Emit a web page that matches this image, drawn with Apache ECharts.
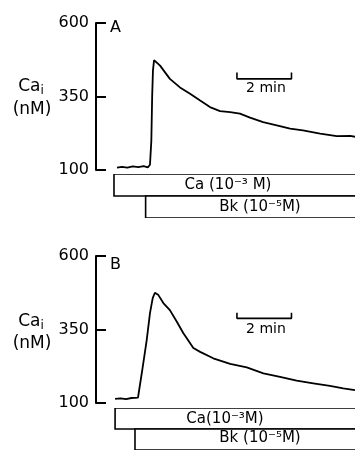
<!DOCTYPE html>
<html>
<head>
<meta charset="utf-8">
<script src="https://cdn.jsdelivr.net/npm/echarts@6/dist/echarts.min.js"></script>
<style>
  html, body { margin: 0; padding: 0; background: #fff; }
  #chart { width: 355px; height: 450px; }
</style>
</head>
<body>
<div id="chart"></div>
<script>
// time in minutes, Ca_i in nM
const timeA = [0.77, 0.95, 1.15, 1.35, 1.55, 1.75, 1.90, 1.98, 2.03, 2.06, 2.09, 2.13, 2.20, 2.35, 2.71, 3.08, 3.45, 3.82, 4.18, 4.55, 4.92, 5.28, 5.65, 6.13, 6.63, 7.12, 7.59, 8.22, 8.83, 9.32, 9.5];
const caA = [108, 111, 108, 112, 110, 113, 109, 118, 200, 350, 440, 474, 470, 455, 410, 381, 359, 336, 314, 300, 297, 292, 278, 263, 252, 241, 235, 224, 215, 216, 213];

const timeB = [0.70, 0.90, 1.10, 1.30, 1.54, 1.68, 1.86, 1.98, 2.08, 2.16, 2.29, 2.47, 2.71, 2.96, 3.20, 3.57, 3.82, 4.30, 4.92, 5.53, 6.14, 6.75, 7.36, 7.97, 8.58, 9.07, 9.5];
const caB = [114, 116, 113, 117, 118, 202, 314, 406, 457, 475, 467, 440, 416, 377, 338, 287, 274, 252, 233, 221, 201, 189, 176, 167, 158, 150, 144];

const yMin = 100;
const yMax = 600;
const yStep = 250;

// treatment bars: start minute, row (0 = Ca, 1 = Bk)
const treatRows = ['Ca (10⁻³ M)', 'Bk (10⁻⁵M)'];
const treatStartA = [0.66, 1.82];
const treatStartB = [0.70, 1.43];
const treatEnd = 9.8;

// 2 min scale bar
const scaleX = [5.17, 7.17];
const scaleA = [410, 432];
const scaleB = [388, 407];

const font = 'DejaVu Sans';
const xMax = 9.5;

function pairs(xs, ys) {
  return xs.map(function (x, i) { return [x, ys[i]]; });
}

function scaleBar(level) {
  return [[scaleX[0], level[1]], [scaleX[0], level[0]], [scaleX[1], level[0]], [scaleX[1], level[1]]];
}

function treatData(starts) {
  return starts.map(function (s, i) { return [s, treatEnd, i]; });
}

function renderTreat(params, api) {
  const p0 = api.coord([api.value(0), api.value(2)]);
  const p1 = api.coord([api.value(1), api.value(2) + 1]);
  return {
    type: 'rect',
    shape: { x: p0[0], y: p0[1], width: p1[0] - p0[0], height: p1[1] - p0[1] },
    style: { fill: '#fff', stroke: '#000', lineWidth: 1.6 }
  };
}

function valueAxis(gridIndex) {
  return {
    type: 'value', gridIndex: gridIndex, min: yMin, max: yMax, interval: yStep,
    axisLine: { show: true, lineStyle: { color: '#000', width: 2 } },
    axisTick: { show: true, inside: true, length: 10, lineStyle: { color: '#000', width: 2 } },
    axisLabel: { inside: false, color: '#000', fontFamily: font, fontSize: 16, margin: 7 },
    splitLine: { show: false }
  };
}

function rowAxis(gridIndex) {
  return { type: 'value', gridIndex: gridIndex, min: 0, max: 2, inverse: true, show: false };
}

function timeAxis(gridIndex) {
  return { type: 'value', gridIndex: gridIndex, min: 0, max: xMax, show: false };
}

const lineStyle = { color: '#000', width: 1.8 };

function text(x, y, str, size, align) {
  return {
    type: 'text', x: x, y: y, z: 100,
    style: { text: str, fill: '#000', font: size + 'px "' + font + '"', align: align || 'center', verticalAlign: 'middle' }
  };
}

function caLabel(x, y) {
  return {
    type: 'text', x: x, y: y, z: 100,
    style: {
      text: '{c|Ca}{s|i}', align: 'center', verticalAlign: 'middle', fill: '#000',
      rich: {
        c: { fontFamily: font, fontSize: 17, lineHeight: 20, fill: '#000' },
        s: { fontFamily: font, fontSize: 12, lineHeight: 12, verticalAlign: 'bottom', fill: '#000' }
      }
    }
  };
}

const chart = echarts.init(document.getElementById('chart'), null, { renderer: 'canvas' });
chart.setOption({
  animation: false,
  backgroundColor: '#fff',
  grid: [
    { left: 96, right: 0, top: 23, height: 147 },
    { left: 96, right: 0, top: 174, height: 44 },
    { left: 96, right: 0, top: 256, height: 147 },
    { left: 96, right: 0, top: 408, height: 44 }
  ],
  xAxis: [timeAxis(0), timeAxis(1), timeAxis(2), timeAxis(3)],
  yAxis: [valueAxis(0), rowAxis(1), valueAxis(2), rowAxis(3)],
  series: [
    { type: 'line', xAxisIndex: 0, yAxisIndex: 0, data: pairs(timeA, caA), showSymbol: false, lineStyle: lineStyle },
    { type: 'line', xAxisIndex: 0, yAxisIndex: 0, data: scaleBar(scaleA), showSymbol: false, lineStyle: { color: '#000', width: 1.6 } },
    { type: 'custom', xAxisIndex: 1, yAxisIndex: 1, data: treatData(treatStartA), renderItem: renderTreat, clip: true, encode: { x: [0, 1], y: 2 } },
    { type: 'line', xAxisIndex: 2, yAxisIndex: 2, data: pairs(timeB, caB), showSymbol: false, lineStyle: lineStyle },
    { type: 'line', xAxisIndex: 2, yAxisIndex: 2, data: scaleBar(scaleB), showSymbol: false, lineStyle: { color: '#000', width: 1.6 } },
    { type: 'custom', xAxisIndex: 3, yAxisIndex: 3, data: treatData(treatStartB), renderItem: renderTreat, clip: true, encode: { x: [0, 1], y: 2 } }
  ],
  graphic: [
    text(110, 28, 'A', 16, 'left'),
    text(110, 265, 'B', 16, 'left'),
    caLabel(31, 87), text(32, 110, '(nM)', 17),
    caLabel(31, 322), text(32, 344, '(nM)', 17),
    text(266, 88, '2 min', 14),
    text(266, 329, '2 min', 14),
    text(228, 185, treatRows[0], 15),
    text(260, 207, treatRows[1], 15),
    text(225, 419, 'Ca(10⁻³M)', 15),
    text(260, 438, 'Bk (10⁻⁵M)', 15)
  ]
});
</script>
</body>
</html>
